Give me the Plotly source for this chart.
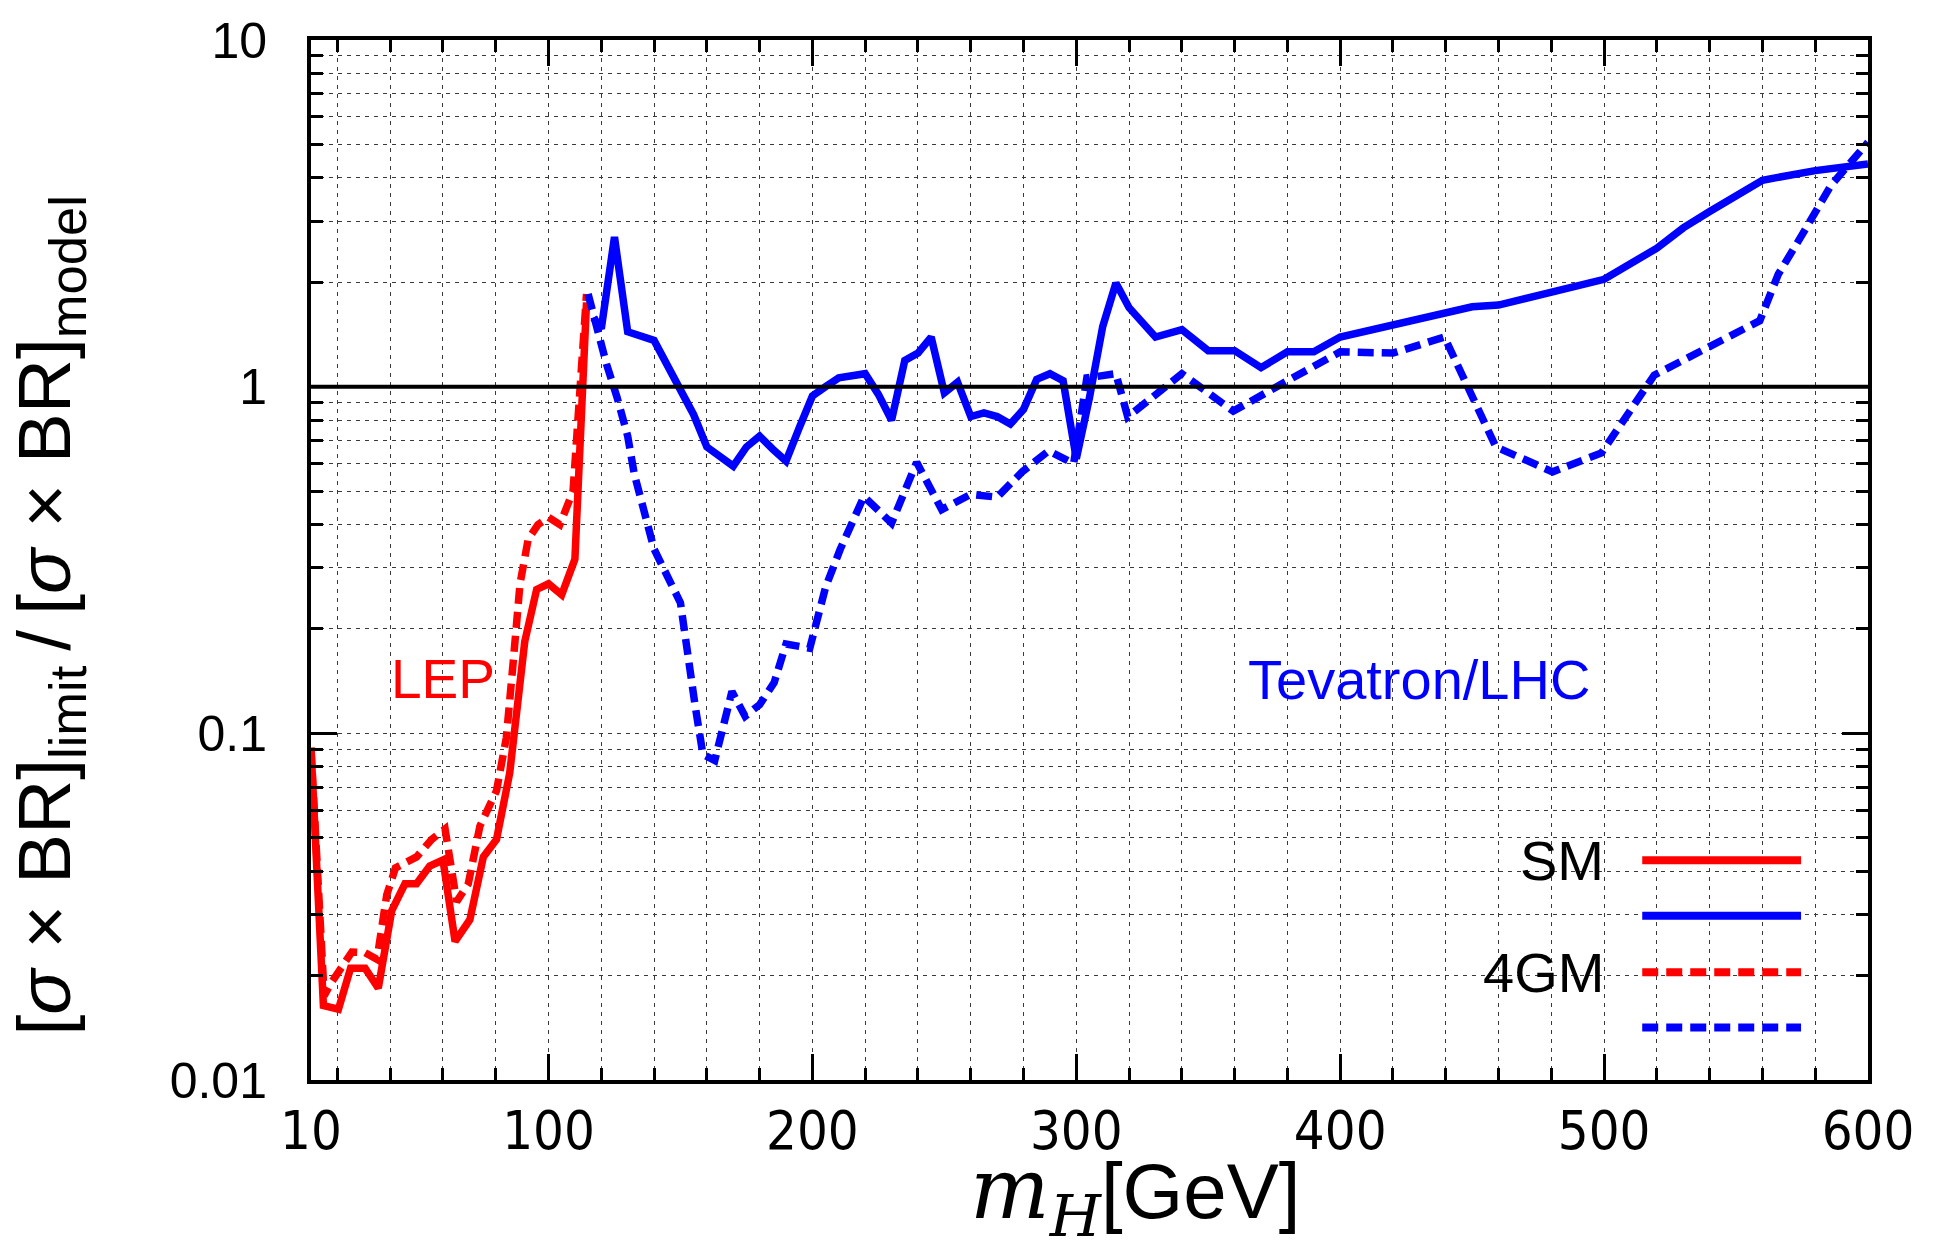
import plotly.graph_objects as go

# ---------------- data ----------------
mh_lep_sm = [10, 14.7, 20.4, 25, 30.5, 35.5, 40.6, 45.6, 50, 55, 60, 64.6, 70.2,
             75.3, 80.3, 85.3, 91, 95.5, 100, 105, 110, 114.4]
ratio_lep_sm = [0.091, 0.0164, 0.016, 0.021, 0.021, 0.0184, 0.0308, 0.0368, 0.0368,
                0.0414, 0.0431, 0.0251, 0.029, 0.044, 0.0494, 0.0769, 0.184, 0.26,
                0.27, 0.251, 0.318, 1.75]

mh_lep_4gm = [10, 15, 17.5, 25.5, 30.5, 35, 38.7, 42, 50, 55.7, 60.8, 65.2, 69.6,
              74, 80.3, 84, 86.6, 89.2, 92.3, 96, 100, 104.3, 109.3, 114.4]
ratio_lep_4gm = [0.09, 0.0175, 0.019, 0.0234, 0.0233, 0.0223, 0.0342, 0.0409, 0.044,
                 0.0494, 0.053, 0.0327, 0.0368, 0.054, 0.0683, 0.097, 0.16, 0.27,
                 0.363, 0.40, 0.42, 0.40, 0.50, 1.85]

mh_tev_sm = [117, 120, 125, 130, 140, 145, 155, 160, 165, 170, 175, 180, 185, 190,
             195, 200, 205, 210, 220, 225, 230, 235, 240, 245, 250, 255, 260, 265,
             270, 275, 280, 285, 290, 295, 300, 305, 310, 315, 320, 330, 340, 350,
             360, 370, 380, 390, 400, 410, 420, 430, 440, 450, 460, 480, 500, 520,
             530, 540, 560, 580, 600]
ratio_tev_sm = [1.58, 1.47, 2.70, 1.44, 1.36, 1.16, 0.83, 0.67, 0.63, 0.59, 0.67, 0.72,
                0.66, 0.61, 0.76, 0.94, 1.0, 1.06, 1.09, 0.95, 0.80, 1.19, 1.25, 1.39,
                0.96, 1.03, 0.82, 0.84, 0.82, 0.78, 0.86, 1.05, 1.09, 1.04, 0.62, 0.93,
                1.49, 1.99, 1.69, 1.39, 1.46, 1.27, 1.27, 1.135, 1.26, 1.26, 1.39, 1.45,
                1.50, 1.57, 1.65, 1.70, 1.72, 1.87, 2.04, 2.51, 2.87, 3.2, 3.94, 4.2, 4.39]

mh_tev_4gm = [115, 118, 122, 126, 130, 132.5, 135.5, 140, 150, 152, 155.5, 158.5, 163,
              169.5, 174.5, 180, 185.5, 190, 199, 205, 210.5, 219.5, 230, 239.5, 249,
              260, 270, 279.5, 289.5, 299, 304, 315, 319.5, 340, 359.5, 380, 400, 420,
              439.5, 459, 480.5, 499, 519, 559, 566, 575, 586, 600]
ratio_tev_4gm = [1.85, 1.51, 1.16, 0.93, 0.72, 0.56, 0.45, 0.34, 0.238, 0.181, 0.121,
                 0.087, 0.0835, 0.132, 0.112, 0.121, 0.14, 0.181, 0.176, 0.264, 0.339,
                 0.482, 0.404, 0.605, 0.442, 0.489, 0.48, 0.568, 0.653, 0.60, 1.06, 1.09,
                 0.818, 1.09, 0.85, 1.04, 1.26, 1.25, 1.39, 0.67, 0.568, 0.644, 1.08,
                 1.55, 2.11, 2.74, 3.81, 5.07]

x_tickvals = [10, 100, 200, 300, 400, 500, 600]
x_minor = list(range(20, 600, 20))
y_tickvals = [0.01, 0.1, 1, 10]
y_ticktext = ["0.01", "0.1", "1", "10"]
y_minor = [m * 10.0 ** e for e in (-2, -1, 0) for m in range(2, 10)]

RED = "#ff0000"
BLUE = "#0000ff"
LW = 7.5
DASH = "16px,8px"
FONT = "Liberation Sans, Arial, Helvetica, sans-serif"
NARROW = "Liberation Sans Narrow, Arial Narrow, DejaVu Sans Condensed, Liberation Sans, sans-serif"

fig = go.Figure()
fig.add_trace(go.Scatter(x=mh_lep_4gm, y=ratio_lep_4gm, mode="lines",
                         line=dict(color=RED, width=LW, dash=DASH), showlegend=False))
fig.add_trace(go.Scatter(x=mh_lep_sm, y=ratio_lep_sm, mode="lines",
                         line=dict(color=RED, width=LW), showlegend=False))
fig.add_trace(go.Scatter(x=mh_tev_4gm, y=ratio_tev_4gm, mode="lines",
                         line=dict(color=BLUE, width=LW, dash=DASH), showlegend=False))
fig.add_trace(go.Scatter(x=mh_tev_sm, y=ratio_tev_sm, mode="lines",
                         line=dict(color=BLUE, width=LW), showlegend=False))

grid = dict(gridcolor="#3a3a3a", griddash="4px,5px", gridwidth=1.2)

fig.update_xaxes(range=[10, 600], tickmode="array", tickvals=x_tickvals,
                 ticks="inside", ticklen=26, tickwidth=3, tickcolor="black",
                 showline=True, linewidth=4, linecolor="black", mirror="allticks",
                 showgrid=True, zeroline=False, ticklabelstandoff=0,
                 tickfont=dict(size=54, color="black", family=NARROW),
                 minor=dict(tickmode="array", tickvals=x_minor, ticks="inside",
                            ticklen=12, tickwidth=3, tickcolor="black",
                            showgrid=True, **grid),
                 **grid)
fig.update_yaxes(type="log", range=[-2, 1], tickmode="array", tickvals=y_tickvals,
                 ticktext=y_ticktext,
                 ticks="inside", ticklen=26, tickwidth=3, tickcolor="black",
                 showline=True, linewidth=4, linecolor="black", mirror="allticks",
                 showgrid=True, zeroline=False, ticklabelstandoff=30,
                 tickfont=dict(size=50, color="black", family=FONT),
                 minor=dict(tickmode="array", tickvals=y_minor, ticks="inside",
                            ticklen=12, tickwidth=3, tickcolor="black",
                            showgrid=True, **grid),
                 **grid)

shapes = [dict(type="line", xref="paper", yref="y", x0=0, x1=1, y0=1, y1=1,
               line=dict(color="black", width=4), layer="above")]
# manual legend keys
leg_x0, leg_x1 = 0.855, 0.957
leg_rows = [(0.2112, RED, "solid"), (0.1579, BLUE, "solid"),
            (0.1037, RED, DASH), (0.0504, BLUE, DASH)]
for yy, col, dsh in leg_rows:
    shapes.append(dict(type="line", xref="paper", yref="paper", x0=leg_x0, x1=leg_x1,
                       y0=yy, y1=yy, line=dict(color=col, width=8, dash=dsh)))

annotations = [
    dict(text="SM", xref="paper", yref="paper", x=0.832, y=0.2112, xanchor="right",
         yanchor="middle", showarrow=False, font=dict(size=56, color="black", family=FONT)),
    dict(text="4GM", xref="paper", yref="paper", x=0.832, y=0.1037, xanchor="right",
         yanchor="middle", showarrow=False, font=dict(size=56, color="black", family=FONT)),
    dict(text="LEP", xref="paper", yref="paper", x=0.0845, y=0.3855, xanchor="center",
         yanchor="middle", showarrow=False, font=dict(size=55, color=RED, family=FONT)),
    dict(text="Tevatron/LHC", xref="paper", yref="paper", x=0.7116, y=0.385,
         xanchor="center", yanchor="middle", showarrow=False,
         font=dict(size=56, color=BLUE, family=FONT)),
    dict(text="<span style=\"font-family:'DejaVu Serif';font-size:84px\"><i>m</i><sub><i>H</i></sub></span>[GeV]",
         xref="paper", yref="paper", x=0.5295, y=-0.111, xanchor="center",
         yanchor="middle", showarrow=False, font=dict(size=78, color="black", family=FONT)),
    dict(text="[<i>σ</i> × BR]<sub>limit</sub>\u2009/\u2009[<i>σ</i> × BR]<sub>model</sub>",
         xref="paper", yref="paper", x=-0.168, y=0.447, xanchor="center",
         yanchor="middle", textangle=-90, showarrow=False,
         font=dict(size=75, color="black", family=FONT)),
]

fig.update_layout(width=1940, height=1258,
                  margin=dict(l=311, r=72, t=29, b=178),
                  plot_bgcolor="white", paper_bgcolor="white",
                  shapes=shapes, annotations=annotations, showlegend=False,
                  font=dict(family=FONT, color="black"))

fig.write_html("out.html")
